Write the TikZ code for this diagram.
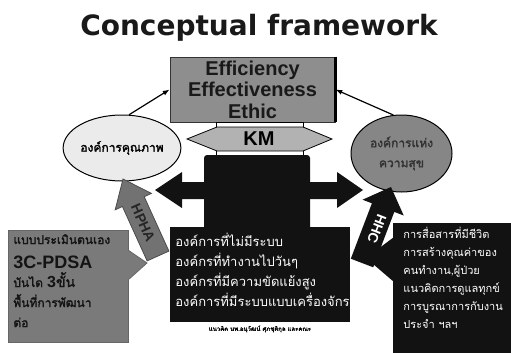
\documentclass[tikz,border=0pt]{standalone}
\usepackage{fontspec}
\setmainfont{Liberation Sans}
\newfontfamily\titlefont{DejaVu Sans}
\newfontfamily\thai[Script=Thai,AutoFakeBold=2]{Loma}
\usetikzlibrary{arrows.meta,shapes.geometric}

\definecolor{boxgray}{HTML}{8E8E8E}
\definecolor{kmgray}{HTML}{B2B2B2}
\definecolor{paleoval}{HTML}{EBEBEB}
\definecolor{darkoval}{HTML}{868686}
\definecolor{leftgray}{HTML}{7A7A7A}
\definecolor{hphagray}{HTML}{727272}
\definecolor{nearblack}{HTML}{121212}

\tikzset{
  ovalnode/.style={ellipse,draw=black,line width=1pt,inner sep=0pt},
  thaiwhite/.style={text=white,align=left,inner sep=0pt},
  leftline/.style={anchor=base west,inner sep=0pt,text=black!92},
}

\begin{document}
\begin{tikzpicture}[x=1pt,y=-1pt,line width=0.8pt,>={Latex[length=2.4mm]}]
  \useasboundingbox (0,0) rectangle (511,353);
  \node[font=\titlefont\bfseries\fontsize{28}{30}\selectfont,anchor=base,text=black!90] (title) at (259,36) {Conceptual framework};

  % top box and KM
  \node[draw=black!80,fill=boxgray,minimum width=165pt,minimum height=65pt,inner sep=0pt,
        align=center,font=\bfseries\fontsize{20}{21.5}\selectfont,text=black!90] (aims) at (252.5,89.5) {Efficiency\\Effectiveness\\Ethic};
  \draw[line width=2.5pt] (aims.north east) -- (aims.south east);
  \node[draw,fill=white,minimum width=87pt,minimum height=35pt,inner sep=0pt] (kmcol) at (259.5,139.5) {};
  \filldraw[fill=kmgray] (187,139) -- (217,127) -- (303,127) -- (332,139) -- (303,151) -- (217,151) -- cycle;
  \node[font=\bfseries\fontsize{20}{20}\selectfont] (km) at (259,139) {KM};

  % ovals
  \node[ovalnode,fill=paleoval,minimum width=99pt,minimum height=66pt,font=\thai\bfseries\fontsize{12}{14}\selectfont] (quality) at (122,148) {องค์การคุณภาพ};
  \node[ovalnode,fill=darkoval,minimum width=101pt,minimum height=77pt,align=center,text=black!80,
        font=\thai\bfseries\fontsize{12}{20}\selectfont] (happy) at (401.5,153.5) {องค์การแห่ง\\ความสุข};
  \draw[->,line width=1.2pt] (quality.78) -- (aims.west);
  \draw[->,line width=1.2pt] (happy.102) -- (aims.east);

  % HPHA arrow
  \filldraw[fill=hphagray,draw=black!70] (123,179) -- (151.4,193.4) -- (144.2,196.7) -- (168.9,251.1)
    -- (147.1,260.9) -- (122.4,206.5) -- (115.2,209.8) -- cycle;
  \node[rotate=-66,font=\bfseries\fontsize{14}{14}\selectfont,text=black!85,inner sep=0pt] (hpha) at (143,223) {HPHA};

  % black core with double arrow
  \fill[nearblack,rounded corners=3pt] (204,155) rectangle (310,232);
  \fill[nearblack] (155,190) -- (182,172) -- (182,182) -- (337,182) -- (337,172) -- (363,190)
    -- (337,208) -- (337,199) -- (182,199) -- (182,208) -- cycle;

  % HHC arrow
  \fill[nearblack] (391,187) -- (403.7,215.5) -- (394.3,211.9) -- (373.2,267.3)
    -- (350.8,258.7) -- (371.9,203.3) -- (362.5,199.7) -- cycle;
  \node[rotate=-111,font=\bfseries\fontsize{14}{14}\selectfont,text=white,inner sep=0pt] (hhc) at (377,229) {HHC};

  % centre box
  \node[fill=nearblack,minimum width=180pt,minimum height=95pt,inner sep=0pt] (core) at (260,274.5) {};
  \node[thaiwhite,anchor=west,font=\thai\fontsize{13}{20}\selectfont] (coretext) at (175,270) {องค์การที่ไม่มีระบบ\\องค์กรที่ทำงานไปวันๆ\\องค์กรที่มีความขัดแย้งสูง\\องค์การที่มีระบบแบบเครื่องจักร};
  \node[font=\thai\bfseries\fontsize{6}{7}\selectfont] (credit) at (260,329) {แนวคิด นพ.อนุวัฒน์ ศุภชุติกุล และคณะ};

  % left box
  \node[draw=black!60,fill=leftgray,minimum width=120pt,minimum height=112pt,inner sep=0pt] (selfcheck) at (68,286) {};
  \filldraw[fill=leftgray,draw=black!60] (128,250) -- (147,263) -- (128,280);
  \fill[leftgray] (127.4,251) rectangle (129,279);
  \node[leftline,font=\thai\bfseries\fontsize{12}{12}\selectfont] (sc1) at (13,244) {แบบประเมินตนเอง};
  \node[leftline,font=\bfseries\fontsize{18}{18}\selectfont] (sc2) at (13,268) {3C-PDSA};
  \node[leftline,font=\thai\bfseries\fontsize{12}{12}\selectfont] (sc3) at (13,287) {บันได {\rmfamily\bfseries\fontsize{16}{16}\selectfont 3}{\fontsize{14}{14}\selectfont ขั้น}};
  \node[leftline,font=\thai\bfseries\fontsize{12}{12}\selectfont] (sc4) at (13,307) {พื้นที่การพัฒนา};
  \node[leftline,font=\thai\bfseries\fontsize{12}{12}\selectfont] (sc5) at (13,327) {ต่อ};

  % right box
  \fill[nearblack] (394,237) -- (366,258) -- (394,282) -- cycle;
  \node[fill=nearblack,minimum width=120pt,minimum height=131pt,inner sep=0pt] (care) at (453,288.5) {};
  \node[thaiwhite,anchor=west,font=\thai\fontsize{11}{18}\selectfont] (caretext) at (403,278) {การสื่อสารที่มีชีวิต\\การสร้างคุณค่าของ\\คนทำงาน,ผู้ป่วย\\แนวคิดการดูแลทุกข์\\การบูรณาการกับงาน\\ประจำ ฯลฯ};
\end{tikzpicture}
\end{document}
